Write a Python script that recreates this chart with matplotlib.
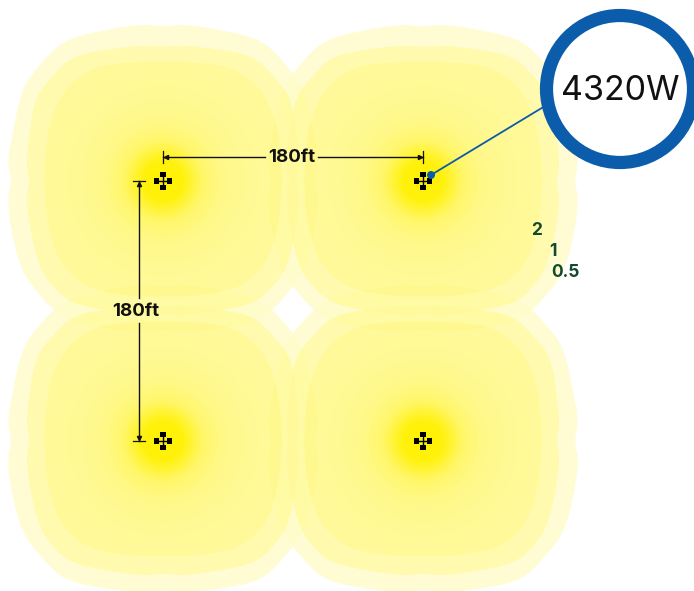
import numpy as np
import matplotlib
matplotlib.use("Agg")
import matplotlib.pyplot as plt
from matplotlib.patches import Circle, Rectangle
from matplotlib.path import Path

POLE_X = [163, 423]
POLE_Y = [181, 441]
DISTANCE_LABEL = "180ft"
POWER_LABEL = "4320W"
CONTOUR_LABELS = ["2", "1", "0.5"]
CONTOUR_LABEL_X = [537, 553, 565]
CONTOUR_LABEL_Y = [230.5, 251.5, 272.5]

# half outlines (dx, dy from pole), top centre -> left -> bottom centre, mirrored in x
OUTER = [(0,-154),(-20,-157),(-60,-151),(-100,-141),(-122,-118),(-141,-94),(-150,-50),(-156,-18),(-151,0),
         (-156,18),(-151,55),(-141,92),(-122,116),(-100,139),(-60,148),(-20,151),(0,149)]
MIDDLE = [(0,-134),(-18,-136),(-55,-132),(-91,-125),(-110,-106),(-128,-84),(-134,-45),(-137,-16),(-133,0),
          (-137,16),(-133,50),(-123,89),(-110,106),(-93,122),(-55,130),(-18,135),(0,132)]
INNER = [(0,-119),(-15,-120),(-63,-116),(-85,-104),(-100,-89),(-113,-62),(-119,-20),(-118,-4),(-120,0),
         (-118,4),(-118,30),(-108,74),(-93,94),(-73,108),(-40,114),(-15,116),(0,115)]
LEVEL_ALPHA = [0.17, 0.32, 0.40]
GLOW_RADIUS = [0, 20, 28, 40, 60, 85, 115]
GLOW_ALPHA = [1.0, 0.93, 0.68, 0.32, 0.12, 0.04, 0.0]

YELLOW = "#FFF200"
BLUE = "#0B5CAB"
INK = "#111111"
GREEN = "#134A2C"
FONT = ["Inter", "DejaVu Sans"]

fig = plt.figure(figsize=(6.94, 5.91), dpi=100)
ax = fig.add_axes([0, 0, 1, 1])
ax.axis("off")


def outline_path(half, cx, cy):
    pts = np.array(half + [(-x, y) for x, y in half[-2:0:-1]], float) + (cx, cy)
    mids = (pts + np.roll(pts, -1, axis=0)) / 2
    verts = [mids[-1]]
    codes = [Path.MOVETO]
    for p, m in zip(pts, mids):
        verts += [p, m]
        codes += [Path.CURVE3, Path.CURVE3]
    return Path(verts, codes)


xs = np.arange(0.25, 694, 0.5)
ys = np.arange(0.25, 591, 0.5)
gx, gy = np.meshgrid(xs, ys)
points = np.column_stack([gx.ravel(), gy.ravel()])
fields = []
for cy in POLE_Y:
    for cx in POLE_X:
        a = np.zeros(gx.shape)
        for half, level in zip([OUTER, MIDDLE, INNER], LEVEL_ALPHA):
            inside = outline_path(half, cx, cy).contains_points(points).reshape(gx.shape)
            a[inside] = level
        glow = np.interp(np.hypot(gx - cx, gy - cy), GLOW_RADIUS, GLOW_ALPHA)
        fields.append(1 - (1 - a) * (1 - glow))
stack = np.sort(np.array(fields), axis=0)
alpha = np.clip(stack[-1] + 0.22 * stack[-2], 0, 1)
rgba = np.zeros(gx.shape + (4,))
rgba[..., :3] = matplotlib.colors.to_rgb(YELLOW)
rgba[..., 3] = alpha
ax.imshow(rgba, extent=(0, 694, 591, 0), zorder=2, interpolation="antialiased")
ax.set_xlim(0, 694)
ax.set_ylim(591, 0)
ax.set_aspect("auto")

# luminaires
for cy in POLE_Y:
    for cx in POLE_X:
        ax.plot([cx - 6, cx + 6], [cy, cy], color="k", lw=1, zorder=5)
        ax.plot([cx, cx], [cy - 6, cy + 6], color="k", lw=1, zorder=5)
        for dx, dy in [(-6.5, 0), (6.5, 0), (0, -6.5), (0, 6.5)]:
            ax.add_patch(Rectangle((cx + dx - 2.8, cy + dy - 2.8), 5.6, 5.6, fc="k", ec="none", zorder=6))

# dimensions
dim_y = 156.5
dim_x = 139
for seg in [(POLE_X[0], 265), (318, POLE_X[1])]:
    ax.plot(seg, [dim_y, dim_y], color=INK, lw=1.0, zorder=5)
for seg in [(POLE_Y[0], 298), (323, POLE_Y[1])]:
    ax.plot([dim_x, dim_x], seg, color=INK, lw=1.0, zorder=5)
for x in POLE_X:
    ax.plot([x, x], [dim_y - 6, dim_y + 6], color=INK, lw=0.9, zorder=5)
for y in POLE_Y:
    ax.plot([dim_x - 6, dim_x + 6], [y, y], color=INK, lw=0.9, zorder=5)
ax.plot([POLE_X[0] + 3], [dim_y], marker="<", ms=3, color=INK, zorder=5)
ax.plot([POLE_X[1] - 3], [dim_y], marker=">", ms=3, color=INK, zorder=5)
ax.plot([dim_x], [POLE_Y[0] + 3], marker="^", ms=3, color=INK, zorder=5)
ax.plot([dim_x], [POLE_Y[1] - 3], marker="v", ms=3, color=INK, zorder=5)
ax.text(292, dim_y + 0.5, DISTANCE_LABEL, ha="center", va="center",
        fontsize=13.5, fontweight="bold", family=FONT, color=INK, zorder=7)
ax.text(135.5, 311, DISTANCE_LABEL, ha="center", va="center",
        fontsize=13.5, fontweight="bold", family=FONT, color=INK, zorder=7)

# contour labels
for s, x, y in zip(CONTOUR_LABELS, CONTOUR_LABEL_X, CONTOUR_LABEL_Y):
    ax.text(x, y, s, ha="center", va="center", fontsize=12.5,
            fontweight="bold", family=FONT, color=GREEN, zorder=7)

# badge
ax.plot([431, 545], [175, 106], color=BLUE, lw=1.3, zorder=7)
ax.add_patch(Circle((431, 175), 4, fc=BLUE, ec="none", zorder=8))
ax.add_patch(Circle((620, 89), 73.5, fc="white", ec=BLUE, lw=9.5, zorder=9))
ax.text(620, 90.5, POWER_LABEL, ha="center", va="center", fontsize=24.5, family=FONT, color="#111111", zorder=10)

fig.savefig("out.png", dpi=100)
